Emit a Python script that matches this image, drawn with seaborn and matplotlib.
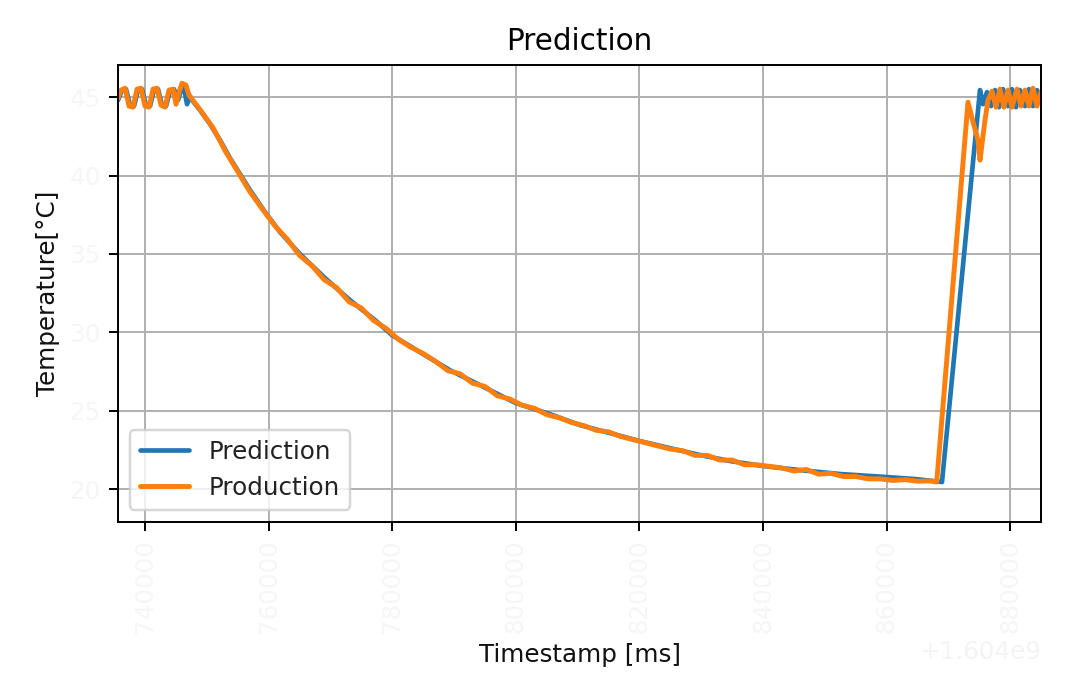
import matplotlib
matplotlib.use("Agg")
import matplotlib.pyplot as plt
from matplotlib.ticker import ScalarFormatter
import seaborn as sns
import pandas as pd

BASE_MS = 1604000000

# ---- Prediction (blue) ----
pred_offset_ms = [735631, 736279, 736926, 737573, 738220, 738867, 739515, 740162, 740809, 741456,
                  742103, 742751, 743398, 744045, 744692, 745339, 745825, 746310, 746796, 747281,
                  747605, 748899, 750517, 752135, 753753, 755371, 756989, 759416, 761843, 765079,
                  769124, 773169, 777214, 779965, 784495, 789349, 794203, 800028, 805529, 810383,
                  815237, 820091, 824945, 829799, 834653, 839992, 845979, 852451, 859894, 864587,
                  868955, 875103, 875589, 876236, 876883, 877530, 878177, 878824, 879633, 880281,
                  880928, 881575, 882384, 883031, 883678, 884326, 884973]
pred_temp = [44.81, 45.45, 45.51, 44.49, 44.43, 45.45, 45.51, 44.49, 44.43, 45.45,
             45.51, 44.49, 44.43, 45.38, 45.51, 44.81, 45.45, 45.57, 44.55, 45.06,
             44.81, 44.17, 43.28, 42.26, 41.11, 40.09, 39.07, 37.67, 36.39, 34.99,
             33.46, 32.05, 30.78, 29.82, 28.73, 27.58, 26.63, 25.48, 24.78, 24.08,
             23.57, 23.06, 22.61, 22.17, 21.79, 21.47, 21.21, 20.96, 20.77, 20.64,
             20.45, 45.45, 44.55, 45.32, 44.43, 45.45, 44.36, 45.51, 44.43, 45.51,
             44.36, 45.45, 44.43, 45.51, 44.43, 45.45, 44.81]

# ---- Production (orange) ----
prod_offset_ms = [735631, 736117, 736764, 737411, 738058, 738706, 739353, 740000, 740647, 741294,
                  741942, 742589, 743236, 743883, 744530, 745016, 745501, 745987, 746634, 747119,
                  749000, 751000, 753000, 755000, 757000, 759000, 761000, 763000, 765000, 767000,
                  769000, 771000, 773000, 775000, 777000, 779000, 781000, 783000, 785000, 787000,
                  789000, 791000, 793000, 795000, 797000, 799000, 801000, 803000, 805000, 807000,
                  809000, 811000, 813000, 815000, 817000, 819000, 821000, 823000, 825000, 827000,
                  829000, 831000, 833000, 835000, 837000, 839000, 841000, 843000, 845000, 847000,
                  849000, 851000, 853000, 855000, 857000, 859000, 861000, 863000, 865000, 867000,
                  868100, 873161, 873809, 874779, 875103, 875912, 876397, 877045, 877692, 878339,
                  878986, 879633, 880281, 881090, 881737, 882384, 883031, 883678, 884326, 884973]
prod_temp = [44.94, 45.45, 45.57, 44.43, 44.36, 45.51, 45.57, 44.43, 44.36, 45.51,
             45.57, 44.49, 44.36, 45.45, 45.51, 44.55, 45.32, 45.89, 45.77, 45.13,
             44.15, 43.05, 41.55, 40.25, 38.95, 37.85, 36.80, 35.95, 34.90, 34.25,
             33.35, 32.85, 31.95, 31.55, 30.75, 30.25, 29.55, 29.05, 28.65, 28.15,
             27.55, 27.35, 26.75, 26.55, 25.95, 25.75, 25.35, 25.15, 24.75, 24.55,
             24.25, 24.05, 23.75, 23.65, 23.35, 23.15, 22.95, 22.75, 22.55, 22.45,
             22.15, 22.15, 21.85, 21.85, 21.55, 21.55, 21.45, 21.35, 21.15, 21.25,
             20.95, 21.00, 20.80, 20.80, 20.65, 20.65, 20.55, 20.60, 20.50, 20.52,
             20.45, 44.68, 43.66, 42.26, 40.98, 43.53, 44.81, 45.38, 44.36, 45.51,
             44.36, 45.45, 44.36, 45.51, 44.43, 45.45, 44.43, 45.57, 44.43, 45.32]

x_tick_offsets = [740000, 760000, 780000, 800000, 820000, 840000, 860000, 880000]
y_ticks = [20, 25, 30, 35, 40, 45]

pred = pd.DataFrame({"t": [BASE_MS + v for v in pred_offset_ms], "temp": pred_temp})
prod = pd.DataFrame({"t": [BASE_MS + v for v in prod_offset_ms], "temp": prod_temp})

sns.set_theme(style="ticks")
plt.rcParams["font.family"] = ["DejaVu Sans"]

DPI = 177
fig = plt.figure(figsize=(1069 / DPI, 678 / DPI), dpi=DPI)
fig.patch.set_facecolor("white")
ax = fig.add_axes([0.1104, 0.2301, 0.8634, 0.6740])
ax.set_facecolor("white")

sns.lineplot(data=pred, x="t", y="temp", ax=ax, color="#1f77b4", linewidth=1.9,
             label="Prediction", estimator=None, sort=False)
sns.lineplot(data=prod, x="t", y="temp", ax=ax, color="#ff7f0e", linewidth=2.0,
             label="Production", estimator=None, sort=False)

ax.set_xlim(BASE_MS + 735631, BASE_MS + 884973)
ax.set_ylim(17.9, 47.05)
ax.set_xticks([BASE_MS + v for v in x_tick_offsets])
ax.set_yticks(y_ticks)
fmt = ScalarFormatter(useOffset=BASE_MS)
fmt.set_scientific(False)
ax.xaxis.set_major_formatter(fmt)
ax.ticklabel_format(axis="x", useOffset=BASE_MS, style="plain")

ax.grid(True, color="#b0b0b0", linewidth=0.8)
for s in ax.spines.values():
    s.set_color("black")
    s.set_linewidth(0.8)
ax.tick_params(axis="both", direction="out", length=3.5, width=0.8, color="black",
               labelsize=10, labelcolor="#f6f6f6")
ax.tick_params(axis="x", labelrotation=90)
ax.xaxis.get_offset_text().set_color("#f4f4f4")
ax.xaxis.get_offset_text().set_fontsize(10)

ax.set_title("Prediction", fontsize=12, color="black")
ax.set_xlabel("Timestamp [ms]", fontsize=10, color="#111111")
ax.set_ylabel("Temperature[°C]", fontsize=10, color="#111111")

leg = ax.legend(loc="lower left", fontsize=10, frameon=True)
leg.get_frame().set_edgecolor("#cccccc")
for txt in leg.get_texts():
    txt.set_color("#222222")

fig.savefig("out.png", dpi=DPI)
